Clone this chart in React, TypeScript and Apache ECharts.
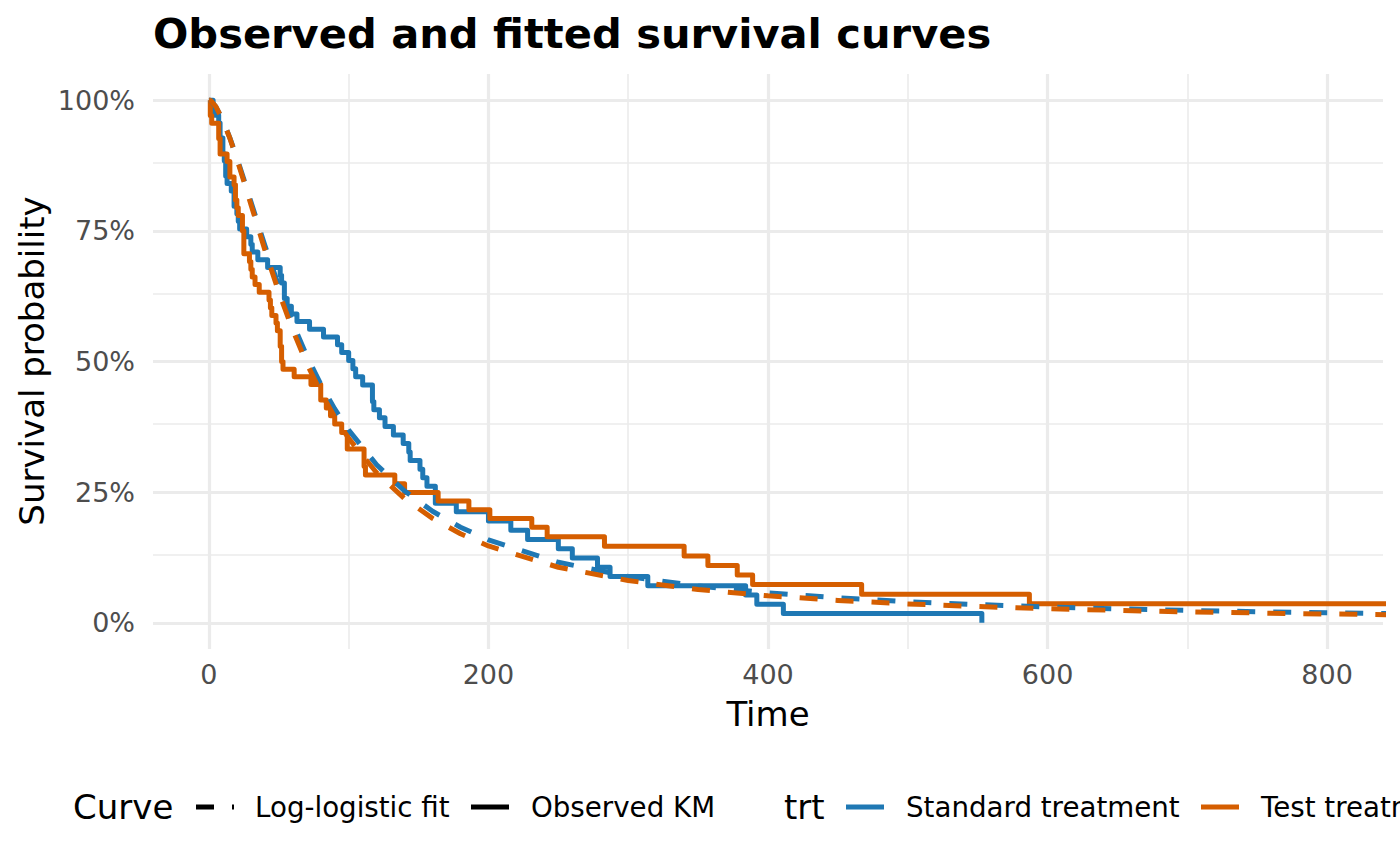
import React, { useEffect, useRef } from "react";
import * as echarts from "echarts";

// Kaplan-Meier step values (time, survival) read for each arm
const stdTimes = [0, 3, 4, 7, 8, 10, 11, 12, 13, 16, 18, 20, 21, 22, 27, 30, 31, 35, 42, 51, 52, 54, 56, 59, 63, 72, 82, 92, 95, 100, 103, 105, 110, 117, 118, 122, 126, 132, 139, 143, 144, 151, 153, 156, 162, 177, 200, 216, 228, 250, 260, 278, 287, 314, 384, 392, 411, 553];
const stdSurv = [1, 0.9855, 0.971, 0.9565, 0.9275, 0.8986, 0.8841, 0.8551, 0.8406, 0.8261, 0.7971, 0.7826, 0.7681, 0.7536, 0.7388, 0.7241, 0.7093, 0.6945, 0.6797, 0.665, 0.6502, 0.6206, 0.6059, 0.5911, 0.5763, 0.5615, 0.5467, 0.532, 0.5172, 0.502, 0.4863, 0.4706, 0.4549, 0.4236, 0.4079, 0.3922, 0.3758, 0.3595, 0.3432, 0.3268, 0.3105, 0.2941, 0.2778, 0.2615, 0.2288, 0.2124, 0.1947, 0.177, 0.1593, 0.1416, 0.1239, 0.1062, 0.0885, 0.0708, 0.0531, 0.0354, 0.0177, 0];

const testTimes = [0, 1, 2, 7, 8, 13, 15, 18, 19, 20, 21, 24, 25, 29, 30, 31, 33, 36, 43, 44, 45, 48, 49, 51, 52, 53, 61, 73, 80, 84, 87, 90, 95, 99, 111, 112, 133, 140, 164, 186, 201, 231, 242, 283, 340, 357, 378, 389, 467, 587, 991, 999];
const testSurv = [1, 0.9706, 0.9559, 0.9265, 0.8971, 0.8824, 0.8529, 0.8382, 0.8088, 0.7941, 0.7794, 0.75, 0.7059, 0.6912, 0.6765, 0.6618, 0.6471, 0.6324, 0.6176, 0.6029, 0.5882, 0.5735, 0.5588, 0.5294, 0.5, 0.4853, 0.4706, 0.4559, 0.4265, 0.4112, 0.396, 0.3802, 0.3643, 0.3326, 0.2994, 0.2828, 0.2661, 0.2495, 0.2329, 0.2162, 0.1996, 0.183, 0.1647, 0.1464, 0.1281, 0.1098, 0.0915, 0.0732, 0.0549, 0.0366, 0.0183, 0];

// Log-logistic fitted curves, values read at these times
const fitTimes = [0, 1, 2, 5, 10, 15, 20, 25, 30, 40, 50, 60, 70, 80, 90, 100, 120, 140, 160, 180, 200, 250, 300, 350, 400, 450, 500, 550, 600, 650, 700, 750, 800, 850];
const stdFit = [1, 0.9991, 0.9971, 0.9872, 0.9614, 0.9279, 0.8895, 0.8484, 0.806, 0.7222, 0.6438, 0.5731, 0.5108, 0.4566, 0.4094, 0.3686, 0.3025, 0.2523, 0.2135, 0.183, 0.1587, 0.1159, 0.0888, 0.0704, 0.0575, 0.0479, 0.0406, 0.035, 0.0305, 0.0269, 0.0239, 0.0214, 0.0193, 0.0175];
const testFit = [1, 0.9991, 0.9972, 0.9875, 0.9614, 0.9271, 0.8875, 0.8448, 0.8009, 0.7139, 0.6327, 0.56, 0.4963, 0.4412, 0.3937, 0.3528, 0.2871, 0.2377, 0.1999, 0.1704, 0.1471, 0.1064, 0.0809, 0.0638, 0.0518, 0.043, 0.0363, 0.0312, 0.0271, 0.0238, 0.0211, 0.0189, 0.017, 0.0154];

const xMajor = [0, 200, 400, 600, 800];
const xMinor = [100, 300, 500, 700];
const yMajor = [0, 0.25, 0.5, 0.75, 1];
const yMinor = [0.125, 0.375, 0.625, 0.875];

const trtNames = ["Standard treatment", "Test treatment"];
const curveNames = ["Log-logistic fit", "Observed KM"];

const BLUE = "#1F78B4";
const ORANGE = "#D55E00";
const FONT = "DejaVu Sans";
const LW = 5;
const DASH = [18, 18];

export default function App() {
  const ref = useRef<HTMLDivElement>(null);

  useEffect(() => {
    document.body.style.margin = "0";
    const chart = echarts.init(ref.current as HTMLDivElement, null, { renderer: "svg" });
    const zip = (t: number[], s: number[]) => t.map((v, i) => [v, s[i]]);

    const gridLines = [
      ...xMinor.map((v) => ({ xAxis: v, lineStyle: { width: 1.6, color: "#EBEBEB", type: "solid" } })),
      ...yMinor.map((v) => ({ yAxis: v, lineStyle: { width: 1.6, color: "#EBEBEB", type: "solid" } })),
      ...xMajor.map((v) => ({ xAxis: v, lineStyle: { width: 3.2, color: "#EBEBEB", type: "solid" } })),
      ...yMajor.map((v) => ({ yAxis: v, lineStyle: { width: 3.2, color: "#EBEBEB", type: "solid" } })),
    ];

    const legendY = 807;
    const keyLine = (x: number, color: string, dashed: boolean) => ({
      type: "line",
      shape: { x1: x, y1: legendY, x2: x + 38, y2: legendY },
      style: { stroke: color, lineWidth: 5, lineDash: dashed ? DASH : null },
    });
    const txt = (x: number, text: string, size: number) => ({
      type: "text",
      x,
      y: legendY,
      style: { text, fontSize: size, fontFamily: FONT, fill: "#000", align: "left", verticalAlign: "middle" },
    });

    const lineSeries = (name: string, t: number[], s: number[], color: string, step: boolean, z: number) => ({
      name,
      type: "line",
      step: step ? "end" : false,
      data: zip(t, s),
      showSymbol: false,
      symbol: "none",
      z,
      lineStyle: { color, width: LW, join: "round", type: step ? "solid" : DASH },
      silent: true,
    });

    const option: any = {
      animation: false,
      grid: { left: 153, right: 17, top: 74, bottom: 216, containLabel: false },
      xAxis: {
        type: "value",
        min: -40,
        max: 840,
        interval: 40,
        axisLine: { show: false },
        axisTick: { show: false },
        splitLine: { show: false },
        axisLabel: {
          margin: 12,
          fontSize: 27,
          fontFamily: FONT,
          color: "#4D4D4D",
          formatter: (v: number) => {
            const r = Math.round(v);
            return xMajor.indexOf(r) >= 0 ? String(r) : "";
          },
        },
      },
      yAxis: {
        type: "value",
        min: -0.05,
        max: 1.05,
        interval: 0.05,
        axisLine: { show: false },
        axisTick: { show: false },
        splitLine: { show: false },
        axisLabel: {
          margin: 18,
          fontSize: 27,
          fontFamily: FONT,
          color: "#4D4D4D",
          formatter: (v: number) => {
            const r = Math.round(v * 100);
            return yMajor.map((y) => Math.round(y * 100)).indexOf(r) >= 0 ? r + "%" : "";
          },
        },
      },
      series: [
        {
          type: "line",
          data: [],
          silent: true,
          z: 0,
          zlevel: 0,
          markLine: {
            silent: true,
            z: 0,
            symbol: ["none", "none"],
            label: { show: false },
            emphasis: { disabled: true },
            animation: false,
            data: gridLines,
          },
        },
        lineSeries(trtNames[0] + " " + curveNames[1], stdTimes, stdSurv, BLUE, true, 3),
        lineSeries(trtNames[1] + " " + curveNames[1], testTimes, testSurv, ORANGE, true, 4),
        lineSeries(trtNames[0] + " " + curveNames[0], fitTimes, stdFit, BLUE, false, 5),
        lineSeries(trtNames[1] + " " + curveNames[0], fitTimes, testFit, ORANGE, false, 6),
      ],
      graphic: [
        {
          type: "text",
          x: 153,
          y: 33,
          style: {
            text: "Observed and fitted survival curves",
            fontSize: 41.6,
            fontWeight: "bold",
            fontFamily: FONT,
            fill: "#000",
            align: "left",
            verticalAlign: "middle",
          },
        },
        {
          type: "text",
          x: 768,
          y: 714,
          style: { text: "Time", fontSize: 34, fontFamily: FONT, fill: "#000", align: "center", verticalAlign: "middle" },
        },
        {
          type: "text",
          x: 32,
          y: 361,
          rotation: Math.PI / 2,
          style: {
            text: "Survival probability",
            fontSize: 34,
            fontFamily: FONT,
            fill: "#000",
            align: "center",
            verticalAlign: "middle",
          },
        },
        txt(73, "Curve", 34),
        keyLine(196, "#000", true),
        txt(255, curveNames[0], 27.7),
        keyLine(471, "#000", false),
        txt(531, curveNames[1], 27.7),
        txt(784, "trt", 34),
        keyLine(846, BLUE, false),
        txt(906, trtNames[0], 27.7),
        keyLine(1201, ORANGE, false),
        txt(1261, trtNames[1], 27.7),
      ],
    };

    chart.setOption(option);
    return () => chart.dispose();
  }, []);

  return <div ref={ref} style={{ width: 1400, height: 865 }} />;
}
